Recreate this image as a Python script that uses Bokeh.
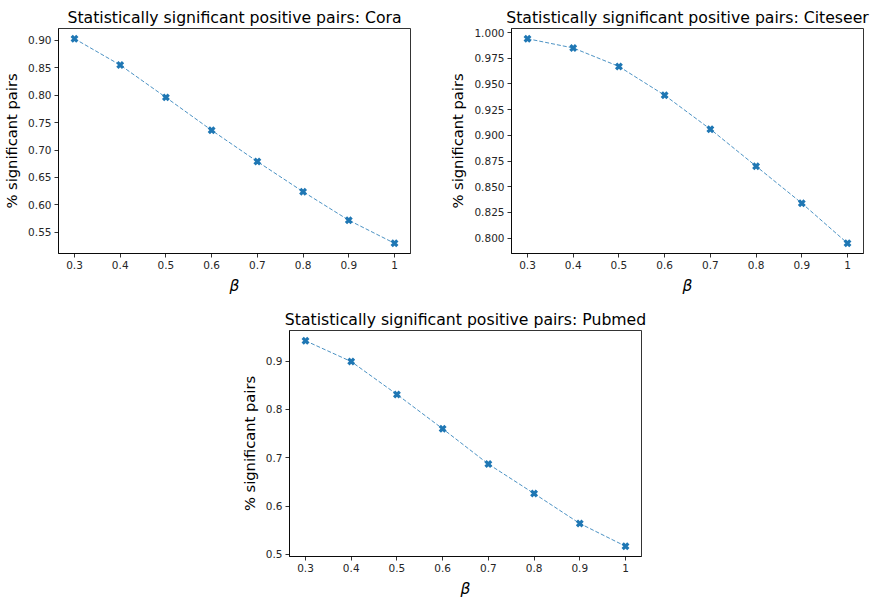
from bokeh.plotting import figure
from bokeh.layouts import column, row
from bokeh.models import Range1d, FixedTicker, NumeralTickFormatter, Spacer
from bokeh.embed import file_html
from bokeh.resources import INLINE

# ---- data ----
beta = [0.3, 0.4, 0.5, 0.6, 0.7, 0.8, 0.9, 1.0]
beta_labels = ["0.3", "0.4", "0.5", "0.6", "0.7", "0.8", "0.9", "1"]

cora = [0.903, 0.855, 0.796, 0.736, 0.679, 0.624, 0.572, 0.530]
citeseer = [0.994, 0.985, 0.967, 0.939, 0.906, 0.870, 0.834, 0.795]
pubmed = [0.942, 0.899, 0.831, 0.760, 0.687, 0.626, 0.564, 0.517]

cora_yticks = [0.55, 0.60, 0.65, 0.70, 0.75, 0.80, 0.85, 0.90]
citeseer_yticks = [0.800, 0.825, 0.850, 0.875, 0.900, 0.925, 0.950, 0.975, 1.000]
pubmed_yticks = [0.5, 0.6, 0.7, 0.8, 0.9]

titles = ["Statistically significant positive pairs: Cora",
          "Statistically significant positive pairs: Citeseer",
          "Statistically significant positive pairs: Pubmed"]

BLUE = "#1f77b4"
FONT = "DejaVu Sans"


def padded(vals, frac=0.05):
    lo, hi = min(vals), max(vals)
    span = hi - lo
    return lo - frac * span, hi + frac * span


def make(title, ys, yticks, yfmt, left, right, top, bottom, fw, fh):
    xlo, xhi = padded(beta)
    ylo, yhi = padded(ys)
    p = figure(frame_width=fw, frame_height=fh,
               x_range=Range1d(xlo, xhi), y_range=Range1d(ylo, yhi),
               output_backend="svg", toolbar_location=None,
               min_border_left=left, min_border_right=right,
               min_border_top=top, min_border_bottom=bottom,
               title=title)
    p.title.align = "center"
    p.title.text_font = FONT
    p.title.text_font_size = "15.7px"
    p.title.text_font_style = "normal"
    p.title.text_color = "#000000"
    p.title.standoff = 4
    p.title.offset = 0

    p.grid.visible = False
    p.outline_line_color = "#000000"
    p.outline_line_width = 0.8
    p.background_fill_color = "white"
    p.border_fill_color = "white"

    for ax in (p.xaxis[0], p.yaxis[0]):
        ax.axis_line_color = "#000000"
        ax.axis_line_width = 0.8
        ax.major_tick_line_color = "#000000"
        ax.major_tick_line_width = 0.8
        ax.major_tick_out = 4
        ax.major_tick_in = 0
        ax.minor_tick_line_color = None
        ax.major_label_text_font = FONT
        ax.major_label_text_font_size = "10.5px"
        ax.major_label_text_color = "#262626"
        ax.major_label_standoff = 3
        ax.axis_label_text_font = FONT
        ax.axis_label_text_font_size = "14.7px"
        ax.axis_label_text_color = "#000000"
        ax.axis_label_standoff = 5

    p.xaxis.ticker = FixedTicker(ticks=beta)
    p.xaxis.major_label_overrides = {b: lab for b, lab in zip(beta, beta_labels)}
    p.xaxis.axis_label = "β"
    p.xaxis.axis_label_text_font_style = "italic"
    p.xaxis.axis_label_text_font_size = "15.5px"

    p.yaxis.ticker = FixedTicker(ticks=yticks)
    p.yaxis.formatter = NumeralTickFormatter(format=yfmt)
    p.yaxis.axis_label = "% significant pairs"
    p.yaxis.axis_label_text_font_style = "normal"

    p.line(beta, ys, line_color=BLUE, line_width=1, line_dash="4 2", line_alpha=0.8)
    p.scatter(beta, ys, marker="x", size=8, line_color=BLUE, line_width=3.2)
    return p


p1 = make(titles[0], cora, cora_yticks, "0.00", 55, 36, 28, 51, 352, 225)
p2 = make(titles[1], citeseer, citeseer_yticks, "0.000", 62, 9, 28, 51, 352, 225)
p3 = make(titles[2], pubmed, pubmed_yticks, "0.0", 53, 40, 26, 40, 352, 226)

layout = column(row(p1, p2), row(Spacer(width=236, height=10), p3))

open("out.html", "w").write(file_html(layout, INLINE))
